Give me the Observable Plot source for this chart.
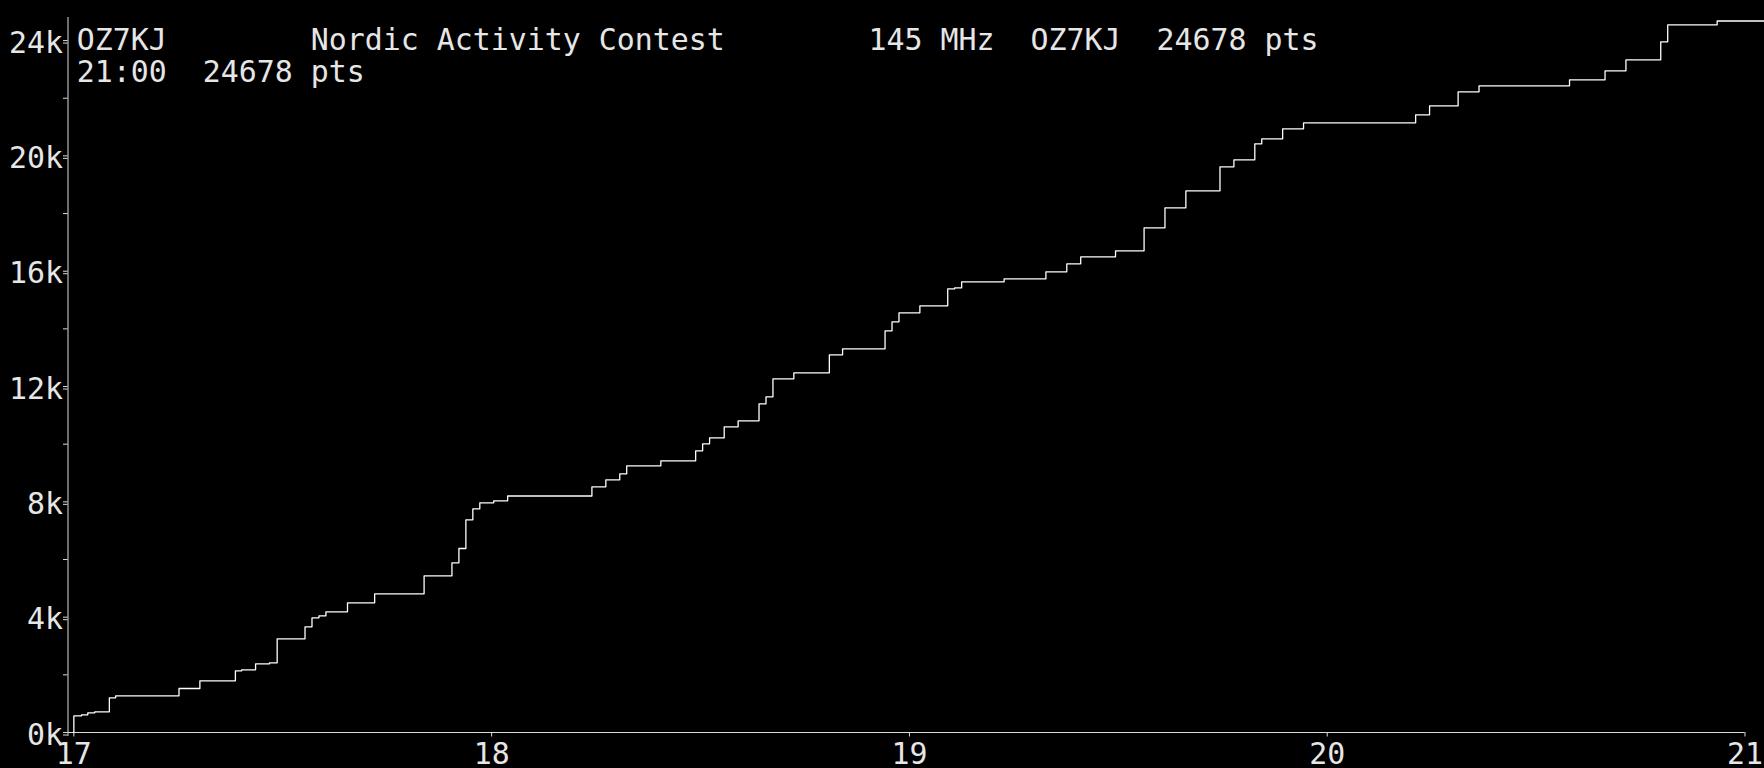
<!DOCTYPE html>
<html><head><meta charset="utf-8">
<script src="https://cdn.jsdelivr.net/npm/d3@7"></script>
<script src="https://cdn.jsdelivr.net/npm/@observablehq/plot@0.6"></script>
<style>
html,body{margin:0;padding:0;background:#000;overflow:hidden}
svg text, svg tspan{white-space:pre}
</style></head><body><div id="chart"></div>
<script>
const titleLines = [
  "OZ7KJ        Nordic Activity Contest        145 MHz  OZ7KJ  24678 pts",
  "21:00  24678 pts"
];
// minutes after 17:00 at which the running score steps up
const minutes = [0, 0, 1.1, 2.0, 3.0, 5.1, 6.0, 15.1, 18.1, 23.2, 24.1, 26.1, 28.1, 29.2, 33.2, 34.2, 35.2, 36.2, 39.3, 43.2, 50.3, 54.3, 55.3, 56.3, 57.3, 58.3, 60.3, 62.3, 74.4, 76.4, 78.4, 79.4, 84.3, 89.3, 90.3, 91.3, 93.4, 95.4, 98.4, 99.4, 100.4, 103.4, 108.5, 110.4, 116.5, 117.5, 118.5, 121.5, 125.5, 126.5, 127.5, 133.6, 139.6, 142.6, 144.6, 149.6, 153.7, 156.7, 159.7, 164.6, 166.6, 169.6, 170.6, 173.6, 176.6, 192.7, 194.7, 198.8, 201.8, 214.8, 219.9, 222.9, 227.9, 228.9, 236.0, 243.0];
// running score (pts) after each step
const points = [0, 580, 614, 683, 718, 1203, 1273, 1526, 1793, 2140, 2175, 2383, 2417, 3250, 3666, 3978, 4048, 4186, 4498, 4810, 5435, 5886, 6382, 7376, 7758, 7966, 8036, 8203, 8521, 8764, 8972, 9250, 9423, 9770, 10013, 10221, 10602, 10810, 11400, 11643, 12267, 12475, 13100, 13308, 13932, 14244, 14556, 14799, 15389, 15423, 15631, 15735, 15978, 16256, 16499, 16707, 17505, 18198, 18787, 19620, 19863, 20418, 20591, 20938, 21146, 21424, 21736, 22222, 22430, 22638, 22950, 23332, 23956, 24545, 24678, 24678];
const startHour = 17;
const xDomain = [16.986, 21];
const yDomain = [0, 24800];
const xTicks = [17, 18, 19, 20, 21];
const xTickLabels = ["17", "18", "19", "20", "21"];
const yTicks = [0, 2000, 4000, 6000, 8000, 10000, 12000, 14000, 16000, 18000, 20000, 22000, 24000];
const yLabelTicks = [0, 4000, 8000, 12000, 16000, 20000, 24000];
const yTickLabels = ["0k", "4k", "8k", "12k", "16k", "20k", "24k"];

const data = minutes.map((m, i) => ({t: startHour + m / 60, v: points[i]}));

const textColor = "#e6e6e6";
const axisColor = "#dcdcdc";
const fs = 29.9;

const chart = Plot.plot({
  width: 1764,
  height: 768,
  marginLeft: 67.5,
  marginRight: 19.5,
  marginTop: 17,
  marginBottom: 36,
  x: {domain: xDomain, label: null},
  y: {domain: yDomain, label: null},
  style: {background: "#000", color: textColor, fontFamily: "'DejaVu Sans Mono', monospace", fontSize: fs + "px"},
  marks: [
    Plot.ruleX([xDomain[0]], {stroke: axisColor, strokeWidth: 1, insetBottom: -4}),
    Plot.ruleY([0], {stroke: axisColor, strokeWidth: 1}),
    Plot.axisY({ticks: yTicks, tickSize: 4.5, tickFormat: () => "", stroke: axisColor, label: null}),
    Plot.axisY({ticks: yLabelTicks, tickSize: 4.5, tickPadding: 0.5, dy: 2.5,
      tickFormat: d => yTickLabels[yLabelTicks.indexOf(d)], stroke: axisColor, fill: textColor, fontSize: fs, label: null}),
    Plot.axisX({ticks: xTicks, tickSize: 4.5, tickPadding: 5.8,
      tickFormat: d => xTickLabels[xTicks.indexOf(d)], stroke: axisColor, fill: textColor, fontSize: fs, label: null}),
    Plot.line(data, {x: "t", y: "v", curve: "step-after", stroke: "#ffffff", strokeWidth: 1.3}),
    Plot.text([titleLines.join("\n")], {frameAnchor: "top-left", dx: 8.8, dy: 10.3, lineAnchor: "top",
      textAnchor: "start", lineHeight: 1.057, fill: textColor, fontSize: fs})
  ]
});
document.getElementById("chart").appendChild(chart);
</script></body></html>
